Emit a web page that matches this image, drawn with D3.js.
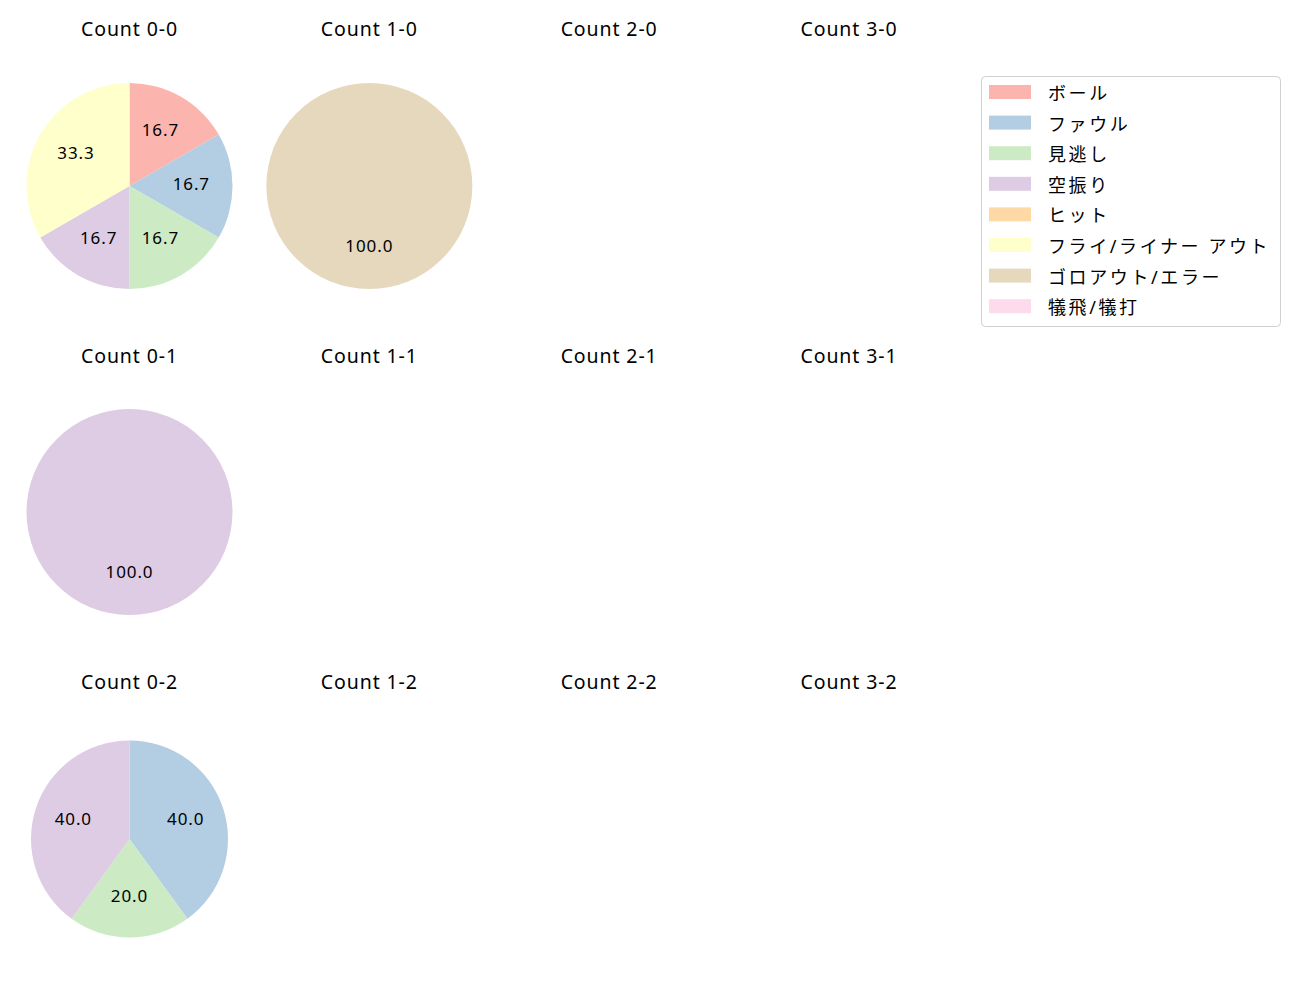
<!DOCTYPE html>
<html lang="ja">
<meta charset="utf-8" />
<style>
  body { margin: 0; background: #fff; }
  text { font-family: "Noto Sans", "Noto Sans CJK JP", sans-serif; }
</style>
<svg width="1300" height="1000"></svg>
<script src="https://d3js.org/d3.v7.min.js"></script>
<script>
// 結果カテゴリ
var categories = ["ボール", "ファウル", "見逃し", "空振り", "ヒット",
                  "フライ/ライナー アウト", "ゴロアウト/エラー", "犠飛/犠打"];
var colors = ["#fbb4ae", "#b3cde3", "#ccebc5", "#decbe4", "#fed9a6",
              "#ffffcc", "#e5d8bd", "#fddaec"];

// カウント (ボール-ストライク)
var balls = [0, 1, 2, 3];
var strikes = [0, 1, 2];

// 各カウントの件数 (categories の順)
var count00 = [1, 1, 1, 1, 0, 2, 0, 0];
var count10 = [0, 0, 0, 0, 0, 0, 1, 0];
var count20 = [0, 0, 0, 0, 0, 0, 0, 0];
var count30 = [0, 0, 0, 0, 0, 0, 0, 0];
var count01 = [0, 0, 0, 1, 0, 0, 0, 0];
var count11 = [0, 0, 0, 0, 0, 0, 0, 0];
var count21 = [0, 0, 0, 0, 0, 0, 0, 0];
var count31 = [0, 0, 0, 0, 0, 0, 0, 0];
var count02 = [0, 2, 1, 2, 0, 0, 0, 0];
var count12 = [0, 0, 0, 0, 0, 0, 0, 0];
var count22 = [0, 0, 0, 0, 0, 0, 0, 0];
var count32 = [0, 0, 0, 0, 0, 0, 0, 0];

var grid = [
  [count00, count10, count20, count30],
  [count01, count11, count21, count31],
  [count02, count12, count22, count32]
];

var svg = d3.select("svg");

// レイアウト
var colX = d3.scalePoint().domain(balls).range([129.5, 849]);
var titleY = [28, 355, 681];
var centerY = [186, 512, 839];
var radius = [103, 103, 98.5];

var color = d3.scaleOrdinal().domain(categories).range(colors);

var pie = d3.pie()
    .sort(null)
    .value(function(d) { return d.value; });

strikes.forEach(function(s, r) {
  balls.forEach(function(b, c) {
    var cx = colX(b);
    svg.append("text")
        .attr("x", cx)
        .attr("y", titleY[r])
        .attr("text-anchor", "middle")
        .attr("dominant-baseline", "central")
        .attr("font-size", 19.5)
        .attr("letter-spacing", 0.9)
        .attr("fill", "#000")
        .text("Count " + b + "-" + s);

    var vals = grid[r][c];
    var total = d3.sum(vals);
    if (total === 0) return;

    var data = categories.map(function(k, i) { return { key: k, value: vals[i] }; })
        .filter(function(d) { return d.value > 0; });

    var arc = d3.arc().innerRadius(0).outerRadius(radius[r]);
    var labelArc = d3.arc().innerRadius(radius[r] * 0.6).outerRadius(radius[r] * 0.6);

    var g = svg.append("g").attr("transform", "translate(" + cx + "," + centerY[r] + ")");
    var arcs = g.selectAll("g.slice")
        .data(pie(data))
      .enter().append("g")
        .attr("class", "slice");

    arcs.append("path")
        .attr("d", arc)
        .attr("fill", function(d) { return color(d.data.key); });

    arcs.append("text")
        .attr("transform", function(d) { return "translate(" + labelArc.centroid(d) + ")"; })
        .attr("dy", -2.5)
        .attr("text-anchor", "middle")
        .attr("dominant-baseline", "central")
        .attr("font-size", 17)
        .attr("letter-spacing", 0.9)
        .attr("fill", "#000")
        .text(function(d) { return (d.value / total * 100).toFixed(1); });
  });
});

// 凡例
var legend = svg.append("g").attr("transform", "translate(981,76)");
legend.append("rect")
    .attr("x", 0.5).attr("y", 0.5)
    .attr("width", 299).attr("height", 250)
    .attr("rx", 4)
    .attr("fill", "#fff")
    .attr("stroke", "#d0d0d0");

var item = legend.selectAll("g.item")
    .data(categories)
  .enter().append("g")
    .attr("class", "item")
    .attr("transform", function(d, i) { return "translate(0," + (16 + i * 30.6) + ")"; });

item.append("rect")
    .attr("x", 8).attr("y", -7)
    .attr("width", 42).attr("height", 14)
    .attr("fill", function(d) { return color(d); });

item.append("text")
    .attr("x", 67)
    .attr("y", 1)
    .attr("dominant-baseline", "central")
    .attr("font-size", 18)
    .attr("letter-spacing", 2.6)
    .attr("fill", "#000")
    .text(function(d) { return d; });
</script>
</html>
